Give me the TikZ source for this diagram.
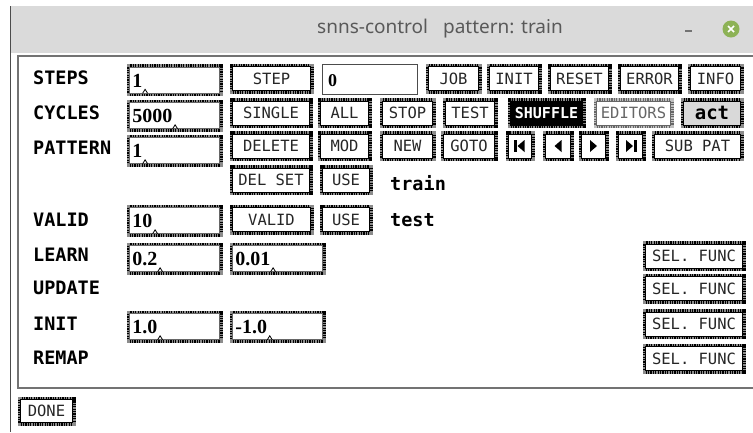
\documentclass[tikz,border=0pt]{standalone}
\usepackage{fontspec}
\setmainfont{DejaVu Sans}
\newfontfamily\monofnt{DejaVu Sans Mono}
\newfontfamily\valfnt{Liberation Serif}
\newfontfamily\titlefnt{Noto Sans}
\definecolor{winbar}{HTML}{DADADA}
\definecolor{closegreen}{HTML}{8DB256}
\tikzset{
  tag/.style={anchor=west, inner sep=0pt, font=\monofnt\bfseries\fontsize{18.5}{18.5}\selectfont},
  halo/.style={preaction={draw=black!45, line width=6pt},
    preaction={draw=black, line width=6pt, dash pattern=on 1.2pt off 1.2pt}},
  btn/.style={halo, draw=black, line width=0.9pt, fill=white, inner sep=0pt,
    minimum height=24pt, text=black!85, font=\monofnt\fontsize{15.5}{15.5}\selectfont},
  entry/.style={halo, draw=black!60, line width=0.6pt, fill=white, inner sep=0pt,
    minimum width=90pt, minimum height=26pt},
  val/.style={anchor=base west, inner sep=0pt, font=\valfnt\bfseries\fontsize{20}{20}\selectfont},
  caret/.style={draw=black, line width=0.8pt},
}
\begin{document}
\begin{tikzpicture}[x=1pt,y=-1pt]
    \useasboundingbox[fill=white] (0,0) rectangle (753,432);
    % window frame and title bar
    \fill[winbar] (11,6) rectangle (753,53);
    \draw[black!70, line width=1.2pt] (10.5,6) -- (10.5,432);
    \node[font=\titlefnt\fontsize{19}{19}\selectfont, text=black!65] (title) at (440,29) {snns-control\hspace{15pt}pattern: train};
    \node[inner sep=0pt, minimum width=7pt, minimum height=1.4pt, fill=black!55] (mini) at (688,31) {};
    \node[circle, fill=closegreen, minimum size=17pt, inner sep=0pt] (close) at (731,29) {};
    \draw[white, line width=1.6pt] ([shift={(-3pt,-3pt)}]close.center) -- ([shift={(3pt,3pt)}]close.center);
    \draw[white, line width=1.6pt] ([shift={(-3pt,3pt)}]close.center) -- ([shift={(3pt,-3pt)}]close.center);
    \draw[black!55, line width=2.5pt] (760,56) -- (18,56) -- (18,388) -- (760,388);

    % row labels
    \node[tag] (T0_0) at (33,78) {STEPS};
    \node[tag] (T1_0) at (33,113) {CYCLES};
    \node[tag] (T2_0) at (33,148) {PATTERN};
    \node[tag] (T4_0) at (33,220) {VALID};
    \node[tag] (T5_0) at (33,255) {LEARN};
    \node[tag] (T6_0) at (33,288) {UPDATE};
    \node[tag] (T7_0) at (33,324) {INIT};
    \node[tag] (T8_0) at (33,358) {REMAP};

    % entry fields
    \node[entry] (E0_0) at (174.5,80) {};
    \node[entry] (E1_0) at (174.5,115.5) {};
    \node[entry] (E2_0) at (174.5,150.5) {};
    \node[entry] (E4_0) at (174.5,220.5) {};
    \node[entry] (E5_0) at (174.5,258.5) {};
    \node[entry] (E5_1) at (277.5,258.5) {};
    \node[entry] (E7_0) at (174.5,326.5) {};
    \node[entry] (E7_1) at (277.5,326.5) {};
    \node[val] (V0_0) at ([shift={(3pt,6pt)}]E0_0.south west) {1};
    \node[val] (V1_0) at ([shift={(3pt,6pt)}]E1_0.south west) {5000};
    \node[val] (V2_0) at ([shift={(3pt,6pt)}]E2_0.south west) {1};
    \node[val] (V4_0) at ([shift={(3pt,6pt)}]E4_0.south west) {10};
    \node[val] (V5_0) at ([shift={(3pt,6pt)}]E5_0.south west) {0.2};
    \node[val] (V5_1) at ([shift={(3pt,6pt)}]E5_1.south west) {0.01};
    \node[val] (V7_0) at ([shift={(3pt,6pt)}]E7_0.south west) {1.0};
    \node[val] (V7_1) at ([shift={(3pt,6pt)}]E7_1.south west) {-1.0};
    \draw[caret] ([shift={(0pt,-6pt)}]V0_0.base east) -- ++(2.5pt,4pt) -- ++(2.5pt,-4pt);
    \draw[caret] ([shift={(0pt,-6pt)}]V1_0.base east) -- ++(2.5pt,4pt) -- ++(2.5pt,-4pt);
    \draw[caret] ([shift={(0pt,-6pt)}]V2_0.base east) -- ++(2.5pt,4pt) -- ++(2.5pt,-4pt);
    \draw[caret] ([shift={(0pt,-6pt)}]V4_0.base east) -- ++(2.5pt,4pt) -- ++(2.5pt,-4pt);
    \draw[caret] ([shift={(0pt,-6pt)}]V5_0.base east) -- ++(2.5pt,4pt) -- ++(2.5pt,-4pt);
    \draw[caret] ([shift={(0pt,-6pt)}]V5_1.base east) -- ++(2.5pt,4pt) -- ++(2.5pt,-4pt);
    \draw[caret] ([shift={(0pt,-6pt)}]V7_0.base east) -- ++(2.5pt,4pt) -- ++(2.5pt,-4pt);
    \draw[caret] ([shift={(0pt,-6pt)}]V7_1.base east) -- ++(2.5pt,4pt) -- ++(2.5pt,-4pt);

    % first row
    \node[btn, minimum width=78pt] (B0_0) at (271.5,78.5) {STEP};
    \node[draw=black!70, line width=1pt, fill=white, minimum width=95pt, minimum height=30pt, inner sep=0pt] (F0_1) at (370,79.5) {};
    \node[val, font=\valfnt\bfseries\fontsize{18}{18}\selectfont] (V0_1) at ([shift={(6pt,9pt)}]F0_1.south west) {0};
    \node[btn, minimum width=50pt] (B0_2) at (453.5,78.5) {JOB};
    \node[btn, minimum width=49pt] (B0_3) at (514,78.5) {INIT};
    \node[btn, minimum width=58pt] (B0_4) at (579.5,78.5) {RESET};
    \node[btn, minimum width=58pt] (B0_5) at (649.5,78.5) {ERROR};
    \node[btn, minimum width=50pt] (B0_6) at (715.5,78.5) {INFO};

    % second row
    \node[btn, minimum width=77pt] (B1_0) at (271,113) {SINGLE};
    \node[btn, minimum width=48pt] (B1_1) at (344.5,113) {ALL};
    \node[btn, minimum width=50pt] (B1_2) at (407.5,113) {STOP};
    \node[btn, minimum width=49pt] (B1_3) at (470,113) {TEST};
    \node[btn, minimum width=72pt, fill=black, text=white, font=\monofnt\bfseries\fontsize{15}{15}\selectfont] (B1_4) at (546.5,113) {SHUFFLE};
    \node[draw=black!60, line width=0.9pt, fill=white, inner sep=0pt, minimum height=24pt, minimum width=74pt,
      text=black!60, font=\monofnt\fontsize{15.5}{15.5}\selectfont,
      preaction={draw=black!25, line width=6pt}, preaction={draw=black!60, line width=6pt, dash pattern=on 1.2pt off 1.2pt}] (B1_5) at (633.5,113) {EDITORS};
    \node[btn, minimum width=57pt, fill=black!15, text=black, font=\monofnt\bfseries\fontsize{19}{19}\selectfont] (B1_6) at (712,113) {act};

    % third row
    \node[btn, minimum width=77pt] (B2_0) at (271,146) {DELETE};
    \node[btn, minimum width=48pt] (B2_1) at (344.5,146) {MOD};
    \node[btn, minimum width=50pt] (B2_2) at (407.5,146) {NEW};
    \node[btn, minimum width=51pt] (B2_3) at (469,146) {GOTO};
    \node[btn, minimum width=23pt] (B2_4) at (520,146) {};
    \node[btn, minimum width=25pt] (B2_5) at (558,146) {};
    \node[btn, minimum width=24pt] (B2_6) at (593.5,146) {};
    \node[btn, minimum width=24pt] (B2_7) at (630.5,146) {};
    \node[btn, minimum width=86pt] (B2_8) at (697.5,146) {SUB PAT};
    \fill ([shift={(-6pt,-6pt)}]B2_4.center) rectangle ++(2.8pt,12pt);
    \fill ([xshift=-2.5pt]B2_4.center) -- ++(7pt,6pt) -- ++(0,-12pt) -- cycle;
    \fill ([xshift=-3.5pt]B2_5.center) -- ++(7pt,6pt) -- ++(0,-12pt) -- cycle;
    \fill ([xshift=3.5pt]B2_6.center) -- ++(-7pt,6pt) -- ++(0,-12pt) -- cycle;
    \fill ([xshift=2.5pt]B2_7.center) -- ++(-7pt,6pt) -- ++(0,-12pt) -- cycle;
    \fill ([shift={(3.2pt,-6pt)}]B2_7.center) rectangle ++(2.8pt,12pt);

    % pattern sets
    \node[btn, minimum width=77pt] (B3_0) at (271,180) {DEL SET};
    \node[btn, minimum width=47pt] (B3_1) at (346,180) {USE};
    \node[tag] (T3_2) at (390,183) {train};
    \node[btn, minimum width=78pt] (B4_0) at (271.5,219.5) {VALID};
    \node[btn, minimum width=47pt] (B4_1) at (346,219.5) {USE};
    \node[tag] (T4_2) at (390,220) {test};

    % function selectors
    \node[btn, minimum width=97pt] (B5_2) at (694,256) {SEL. FUNC};
    \node[btn, minimum width=97pt] (B6_2) at (694,288.5) {SEL. FUNC};
    \node[btn, minimum width=97pt] (B7_2) at (694,324) {SEL. FUNC};
    \node[btn, minimum width=97pt] (B8_2) at (694,358.5) {SEL. FUNC};

    \node[btn, minimum width=52pt, minimum height=23pt] (done) at (46.5,411) {DONE};
\end{tikzpicture}
\end{document}
